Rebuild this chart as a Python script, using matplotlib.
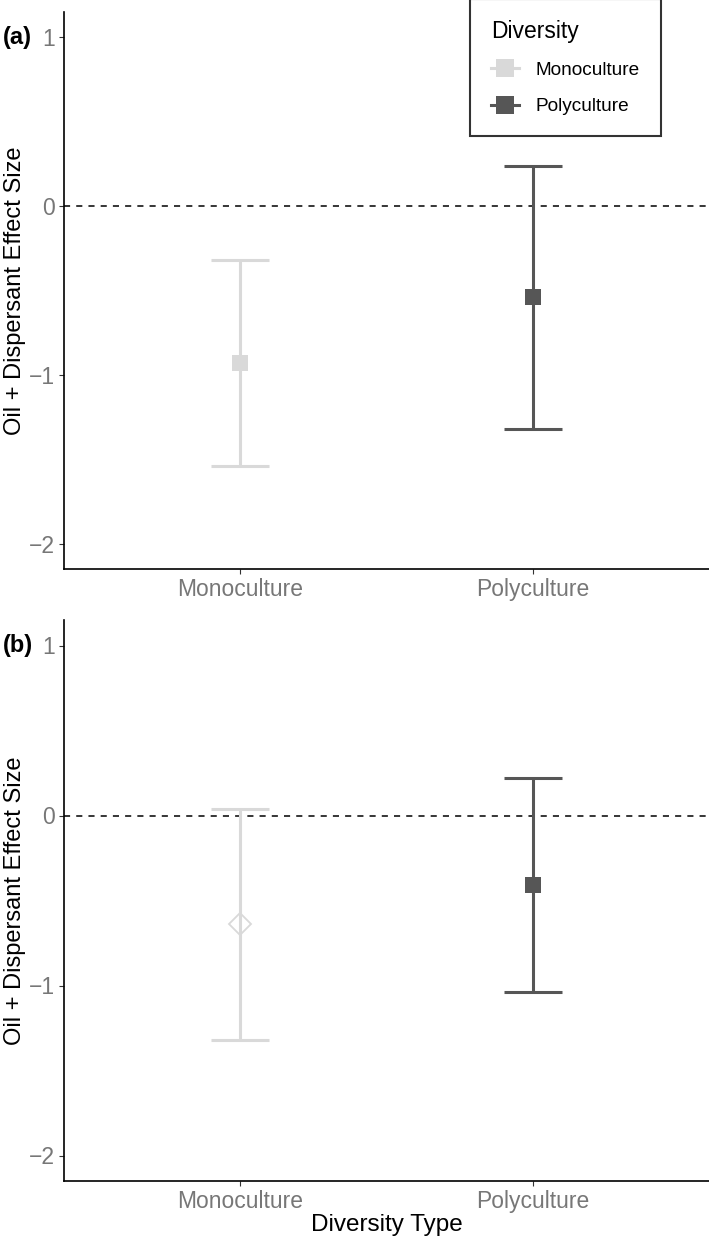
import matplotlib.pyplot as plt
from matplotlib.lines import Line2D

plt.rcParams['font.family'] = ['Liberation Sans', 'DejaVu Sans']

# data
categories = ["Monoculture", "Polyculture"]
a_est = [-0.93, -0.54]
a_lo = [-1.54, -1.32]
a_hi = [-0.32, 0.235]
b_est = [-0.64, -0.41]
b_lo = [-1.32, -1.04]
b_hi = [0.04, 0.22]
b_markers = ["D", "s"]

colors = ["#d9d9d9", "#565656"]
tick_grey = "#777777"

fig = plt.figure(figsize=(7.09, 12.37), dpi=100)
ax_a = fig.add_axes([64 / 709, 1 - 569 / 1237, 1 - 64 / 709, 557 / 1237])
ax_b = fig.add_axes([64 / 709, 1 - 1181 / 1237, 1 - 64 / 709, 561 / 1237])


def draw_panel(ax, est, lo, hi, markers, letter):
    ax.axhline(0, color="black", lw=1.1, ls=(0, (4, 4)), zorder=1)
    for i, cat in enumerate(categories):
        x = i + 1
        ax.errorbar([x], [est[i]], yerr=[[est[i] - lo[i]], [hi[i] - est[i]]],
                    fmt="none", ecolor=colors[i], elinewidth=2.2,
                    capsize=21, capthick=2.2, zorder=2)
        if markers[i] == "D":
            ax.plot([x], [est[i]], marker="D", markersize=11.5,
                    markerfacecolor="none", markeredgecolor=colors[i],
                    markeredgewidth=1.3, zorder=3)
        else:
            ax.plot([x], [est[i]], marker="s", markersize=11.5,
                    color=colors[i], markeredgewidth=0, zorder=3)
    ax.set_xlim(0.4, 2.6)
    ax.set_ylim(-2.15, 1.15)
    ax.set_xticks([1, 2])
    ax.set_xticklabels(categories)
    ax.set_yticks([1, 0, -1, -2])
    ax.set_yticklabels(["1", "0", "\u22121", "\u22122"])
    for s in ["top", "right"]:
        ax.spines[s].set_visible(False)
    for s in ["left", "bottom"]:
        ax.spines[s].set_linewidth(1.2)
        ax.spines[s].set_color("black")
    ax.tick_params(axis="both", colors="#333333", length=3.5, width=0.8,
                   labelsize=16.5, labelcolor=tick_grey, pad=3)
    ax.set_ylabel("Oil + Dispersant Effect Size", fontsize=17)
    ax.yaxis.set_label_coords(-38 / 645, 0.5)
    ax.text(0, 0, letter, transform=ax.transAxes, fontsize=17,
            fontweight="bold", ha="left", va="center",
            position=(-61 / 645, (1 + 2.15) / 3.3))


draw_panel(ax_a, a_est, a_lo, a_hi, ["s", "s"], "(a)")
draw_panel(ax_b, b_est, b_lo, b_hi, b_markers, "(b)")
ax_b.set_xlabel("Diversity Type", fontsize=17.5, labelpad=1)

# legend
handles = [Line2D([0], [0], color=colors[i], lw=2.2, marker="s",
                  markersize=13, markeredgewidth=0) for i in range(2)]
leg = fig.legend(handles, categories, title="Diversity", loc="upper left",
                 bbox_to_anchor=(470 / 709, 1.001), borderaxespad=0,
                 fontsize=13.7, title_fontsize=16.5, frameon=True,
                 fancybox=False, edgecolor="black", borderpad=1.1,
                 labelspacing=1.0, handlelength=1.5, handletextpad=0.85,
                 alignment="left")
leg.get_frame().set_linewidth(1.5)

fig.savefig("out.png", dpi=100)
